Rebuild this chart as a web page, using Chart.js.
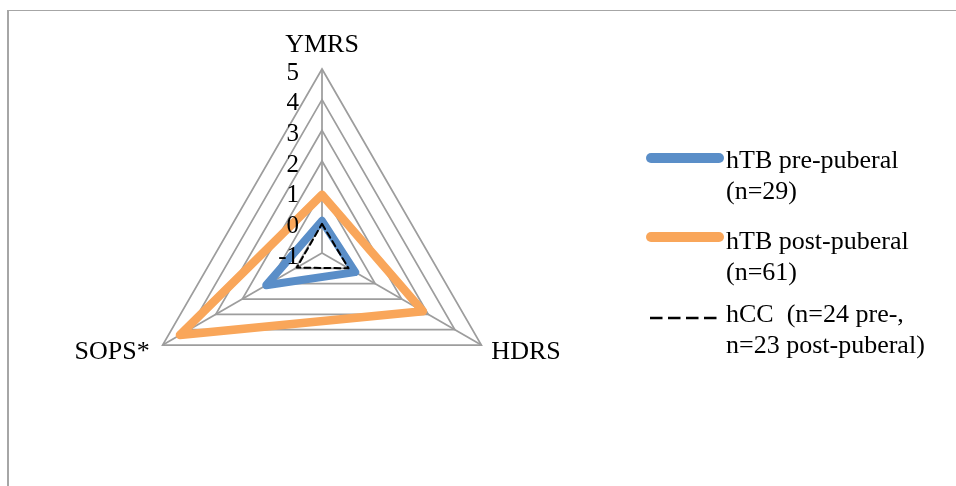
<!DOCTYPE html>
<html>
<head>
<meta charset="utf-8">
<script src="https://cdn.jsdelivr.net/npm/chart.js@4/dist/chart.umd.min.js"></script>
<style>
html,body{margin:0;padding:0;background:#fff;}
#wrap{position:relative;width:956px;height:486px;overflow:hidden;background:#fff;}
#frame{position:absolute;left:7px;top:10px;width:980px;height:500px;border-top:1.5px solid #a6a6a6;border-left:2px solid #a6a6a6;}
canvas{position:absolute;left:0;top:0;}
.lg{position:absolute;left:726px;font-family:"Liberation Serif","Times New Roman",serif;font-size:26px;line-height:30.5px;color:#000;white-space:nowrap;}
</style>
</head>
<body>
<div id="wrap">
  <div id="frame"></div>
  <canvas id="c" width="956" height="486"></canvas>
  <div class="lg" style="top:145px">hTB pre-puberal<br>(n=29)</div>
  <div class="lg" style="top:226px">hTB post-puberal<br>(n=61)</div>
  <div class="lg" style="top:299px">hCC&nbsp; (n=24 pre-,<br>n=23 post-puberal)</div>
</div>
<script>
// ---- data ----
const categories = ['YMRS', 'HDRS', 'SOPS*'];
const prePuberal = [0.05, 0.25, 1.1];
const postPuberal = [0.9, 2.8, 4.35];
const controls = [-0.05, 0.0, -0.05];
const tickValues = [-1, 0, 1, 2, 3, 4, 5];
const tickLabels = ['-1', '0', '1', '2', '3', '4', '5'];

const FONT = '"Liberation Serif", "Times New Roman", serif';
const BLUE = '#5A8EC8';
const ORANGE = '#F9A65A';

const textPlugin = {
  id: 'textPlugin',
  afterDatasetsDraw(chart) {
    const s = chart.scales.r;
    const ctx = chart.ctx;
    ctx.save();
    ctx.font = '25px ' + FONT;
    ctx.fillStyle = '#000';
    ctx.textAlign = 'right';
    ctx.textBaseline = 'middle';
    tickValues.forEach((v, i) => {
      const d = s.getDistanceFromCenterForValue(v);
      ctx.fillText(tickLabels[i], s.xCenter - 23, s.yCenter - d + 4);
    });
    ctx.restore();
  },
  afterDraw(chart) {
    const s = chart.scales.r;
    const ctx = chart.ctx;
    ctx.save();
    ctx.font = '26px ' + FONT;
    ctx.fillStyle = '#000';
    ctx.textBaseline = 'alphabetic';
    categories.forEach((c, i) => {
      const p = s.getPointPosition(i, s.drawingArea);
      if (i === 0) { ctx.textAlign = 'center'; ctx.fillText(c, p.x, p.y - 17); }
      else if (i === 1) { ctx.textAlign = 'left'; ctx.fillText(c, p.x + 10, p.y + 14); }
      else { ctx.textAlign = 'right'; ctx.fillText(c, p.x - 13, p.y + 14); }
    });
    // legend swatches
    ctx.lineCap = 'round';
    ctx.lineWidth = 10;
    ctx.strokeStyle = BLUE;
    ctx.beginPath(); ctx.moveTo(651, 158); ctx.lineTo(719, 158); ctx.stroke();
    ctx.strokeStyle = ORANGE;
    ctx.beginPath(); ctx.moveTo(651, 237); ctx.lineTo(719, 237); ctx.stroke();
    ctx.lineCap = 'butt';
    ctx.lineWidth = 2.5;
    ctx.strokeStyle = '#000';
    ctx.setLineDash([12.5, 5.5]);
    ctx.beginPath(); ctx.moveTo(650, 318); ctx.lineTo(718, 318); ctx.stroke();
    ctx.restore();
  }
};

new Chart(document.getElementById('c'), {
  type: 'radar',
  data: {
    labels: categories,
    datasets: [
      { label: 'hTB pre-puberal (n=29)', data: prePuberal, borderColor: BLUE, borderWidth: 8, order: 1 },
      { label: 'hTB post-puberal (n=61)', data: postPuberal, borderColor: ORANGE, borderWidth: 8.5, order: 2 },
      { label: 'hCC (n=24 pre-, n=23 post-puberal)', data: controls, borderColor: '#000', borderWidth: 2, borderDash: [6, 4], order: 0 }
    ]
  },
  options: {
    responsive: false,
    animation: false,
    devicePixelRatio: 1,
    layout: { padding: { left: 138, top: 69, right: 450, bottom: 49 } },
    elements: {
      line: { fill: false, tension: 0, borderJoinStyle: 'round', borderCapStyle: 'round' },
      point: { radius: 0, hoverRadius: 0 }
    },
    plugins: { legend: { display: false }, tooltip: { enabled: false } },
    scales: {
      r: {
        min: -1,
        max: 5,
        ticks: { display: false, stepSize: 1 },
        pointLabels: { display: false },
        grid: { color: '#9d9d9d', lineWidth: 1.75 },
        angleLines: { color: '#9d9d9d', lineWidth: 1.75 }
      }
    }
  },
  plugins: [textPlugin]
});
</script>
</body>
</html>
